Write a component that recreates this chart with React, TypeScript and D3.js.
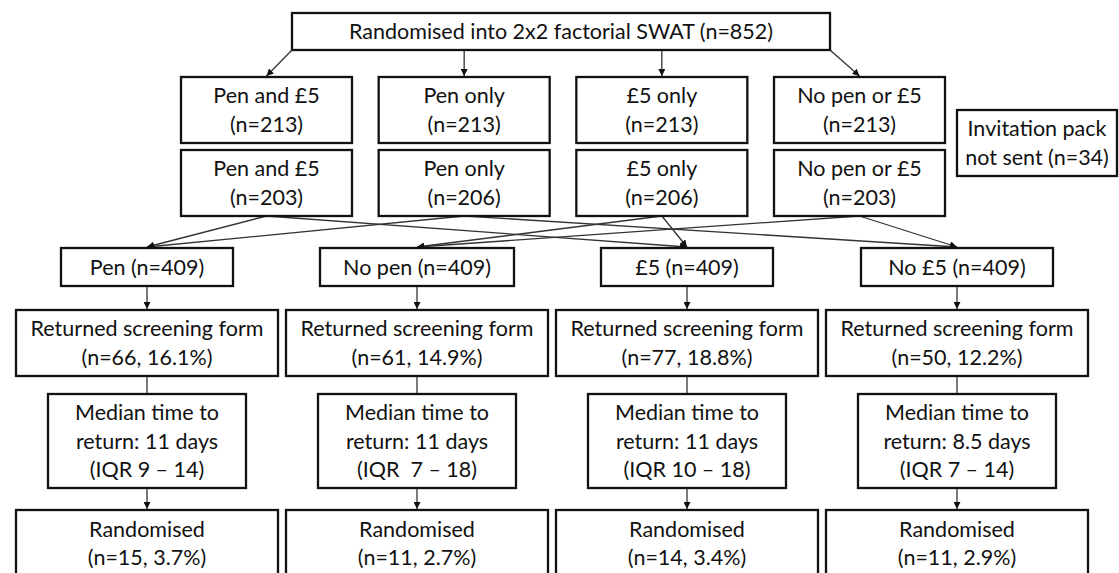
import React, { useEffect, useRef } from "react";
import * as d3 from "d3";

// flow chart data
const topLabel = "Randomised into 2x2 factorial SWAT (n=852)";
const arms = ["Pen and £5", "Pen only", "£5 only", "No pen or £5"];
const allocatedN = [213, 213, 213, 213];
const sentN = [203, 206, 206, 203];
const notSentLabel = ["Invitation pack", "not sent (n=34)"];
const factors = ["Pen", "No pen", "£5", "No £5"];
const factorN = [409, 409, 409, 409];
const returnedN = [66, 61, 77, 50];
const returnedPct = ["16.1", "14.9", "18.8", "12.2"];
const medianDays = ["11", "11", "11", "8.5"];
const iqrLabels = ["9 – 14", " 7 – 18", "10 – 18", "7 – 14"];
const randomisedN = [15, 11, 14, 11];
const randomisedPct = ["3.7", "2.7", "3.4", "2.9"];
// arm index -> factor index
const links = [
  [0, 0], [0, 2],
  [1, 0], [1, 3],
  [2, 1], [2, 2],
  [3, 1], [3, 3],
];

const App = () => {
  const svgRef = useRef(null);

  useEffect(() => {
    const width = 1119,
      height = 573;
    const fontFamily = "Lato, 'Open Sans', sans-serif";
    const fontSize = 21.5;
    const lineH = 28.5;
    const boxStroke = "#111", lineColor = "#333";

    const svg = d3.select(svgRef.current).attr("width", width).attr("height", height).html("");

    svg.append("defs")
      .append("marker")
      .attr("id", "arrow")
      .attr("viewBox", "0 0 10 10")
      .attr("refX", 10)
      .attr("refY", 5)
      .attr("markerWidth", 7)
      .attr("markerHeight", 7)
      .attr("markerUnits", "userSpaceOnUse")
      .attr("orient", "auto")
      .append("path")
      .attr("d", "M0,0 L10,5 L0,10 z")
      .attr("fill", "#111");

    // x positions of the arm boxes and the factor columns
    const armX = d3.scalePoint().domain(arms).range([266.5, 859.5]);
    const colX = d3.scalePoint().domain(factors).range([147, 957]);

    const armW = 171;
    const factorW = [172, 194, 172, 192];
    const wideW = 262, medianW = 198;

    const top = { x0: 292, x1: 830, y0: 13, y1: 50 };
    const row1 = { y0: 77, y1: 143 };
    const row2 = { y0: 150, y1: 216 };
    const factorRow = { y0: 248, y1: 286 };
    const returnedRow = { y0: 310, y1: 376 };
    const medianRow = { y0: 394, y1: 488 };
    const randRow = { y0: 510, y1: 600 };

    const linksG = svg.append("g").attr("stroke", lineColor).attr("stroke-width", 1.3).attr("fill", "none");
    const boxesG = svg.append("g");

    const drawBox = (cx, w, y0, y1, lines, textTop = null) => {
      boxesG.append("rect")
        .attr("x", cx - w / 2)
        .attr("y", y0)
        .attr("width", w)
        .attr("height", y1 - y0)
        .attr("fill", "#fff")
        .attr("stroke", boxStroke)
        .attr("stroke-width", 2.3);
      const cy = (y0 + y1) / 2;
      const startY = textTop ?? cy - ((lines.length - 1) * lineH) / 2;
      const t = boxesG.append("text")
        .attr("text-anchor", "middle")
        .style("font-family", fontFamily)
        .style("font-size", fontSize + "px")
        .style("white-space", "pre")
        .attr("fill", "#111");
      lines.forEach((l, i) => {
        t.append("tspan").attr("x", cx).attr("y", startY + i * lineH).attr("dy", "0.35em").text(l);
      });
    };

    const arrow = (x1, y1, x2, y2, head = true) => {
      const l = linksG.append("line")
        .attr("x1", x1).attr("y1", y1).attr("x2", x2).attr("y2", y2);
      if (head) l.attr("marker-end", "url(#arrow)");
    };

    // top box
    drawBox((top.x0 + top.x1) / 2, top.x1 - top.x0, top.y0, top.y1, [topLabel]);

    // top -> arms
    arms.forEach((a) => {
      const ex = armX(a);
      const sx = Math.max(top.x0, Math.min(top.x1, ex));
      arrow(sx, top.y1, ex, row1.y0 - 1);
    });

    arms.forEach((a, i) => {
      drawBox(armX(a), armW, row1.y0, row1.y1, [a, `(n=${allocatedN[i]})`]);
      drawBox(armX(a), armW, row2.y0, row2.y1, [a, `(n=${sentN[i]})`]);
    });

    drawBox(1037, 160, 110, 176, notSentLabel);

    // arms -> factors
    links.forEach(([a, f]) => {
      arrow(armX(arms[a]), row2.y1, colX(factors[f]), factorRow.y0 - 1);
    });

    factors.forEach((f, i) => {
      const cx = colX(f);
      drawBox(cx, factorW[i], factorRow.y0, factorRow.y1, [`${f} (n=${factorN[i]})`]);
      arrow(cx, factorRow.y1, cx, returnedRow.y0 - 1);
      drawBox(cx, wideW, returnedRow.y0, returnedRow.y1, [
        "Returned screening form",
        `(n=${returnedN[i]}, ${returnedPct[i]}%)`,
      ]);
      arrow(cx, returnedRow.y1, cx, medianRow.y0, false);
      drawBox(cx, medianW, medianRow.y0, medianRow.y1, [
        "Median time to",
        `return: ${medianDays[i]} days`,
        `(IQR ${iqrLabels[i]})`,
      ]);
      arrow(cx, medianRow.y1, cx, randRow.y0 - 1);
      drawBox(cx, wideW, randRow.y0, randRow.y1, [
        "Randomised",
        `(n=${randomisedN[i]}, ${randomisedPct[i]}%)`,
      ], 529);
    });
  }, []);

  return (
    <svg
      ref={svgRef}
      style={{ position: "absolute", left: 0, top: 0, background: "#fff" }}
    ></svg>
  );
};

export default App;
